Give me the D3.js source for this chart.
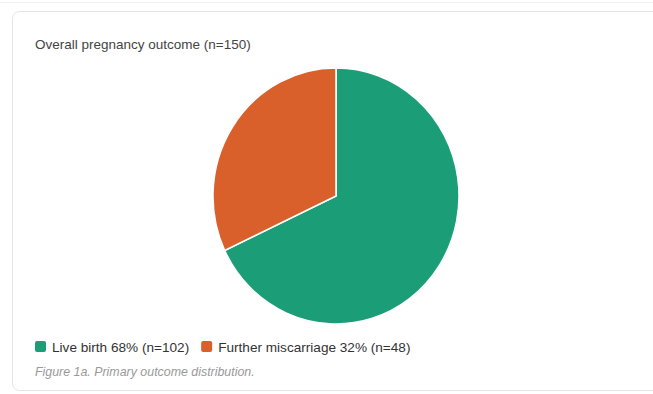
<!DOCTYPE html>
<html>
<head>
<meta charset="utf-8">
<script src="https://cdn.jsdelivr.net/npm/d3@7"></script>
<style>
  html, body { margin: 0; padding: 0; background: #fff; }
  svg { display: block; font-family: "Liberation Sans", Arial, sans-serif; }
</style>
</head>
<body>
<svg id="chart" width="653" height="394"></svg>
<script>
// Outcome categories and counts
const categories = ["Live birth", "Further miscarriage"];
const counts = [102, 48];
const colors = ["#1b9e77", "#d95f2b"];
const title = "Overall pregnancy outcome (n=150)";
const caption = "Figure 1a. Primary outcome distribution.";

const total = d3.sum(counts);
const data = categories.map((c, i) => ({ name: c, value: counts[i], color: colors[i] }));

const svg = d3.select("#chart");

// faint divider above the card
svg.append("line")
  .attr("x1", 0).attr("x2", 653).attr("y1", 2.5).attr("y2", 2.5)
  .attr("stroke", "#f0f0f0");

// card
svg.append("rect")
  .attr("x", 12.5).attr("y", 11.5)
  .attr("width", 700).attr("height", 379)
  .attr("rx", 7)
  .attr("fill", "#fff")
  .attr("stroke", "#e4e4e4");

svg.append("text")
  .attr("x", 35).attr("y", 48.5)
  .attr("font-size", 13.5)
  .attr("fill", "#444")
  .text(title);

// pie
const cx = 336, cy = 196, r = 123;
const pie = d3.pie().sort(null).value(d => d.value);
const arc = d3.arc().innerRadius(0).outerRadius(r);

const g = svg.append("g")
  .attr("transform", `translate(${cx},${cy}) scale(1,1.04)`);

g.selectAll("path")
  .data(pie(data))
  .join("path")
  .attr("d", arc)
  .attr("fill", d => d.data.color)
  .attr("stroke", "#fff")
  .attr("stroke-width", 1.5);

// legend
const legend = svg.append("g").attr("transform", "translate(35,347)");
let x = 0;
data.forEach(d => {
  const item = legend.append("g").attr("transform", `translate(${x},0)`);
  item.append("rect")
    .attr("x", 0).attr("y", -6)
    .attr("width", 11).attr("height", 11)
    .attr("rx", 2)
    .attr("fill", d.color);
  const t = item.append("text")
    .attr("x", 17).attr("y", 5)
    .attr("font-size", 13.6)
    .attr("fill", "#333")
    .text(`${d.name} ${Math.round(d.value / total * 100)}% (n=${d.value})`);
  x += 17 + t.node().getComputedTextLength() + 12;
});

svg.append("text")
  .attr("x", 35).attr("y", 376)
  .attr("font-size", 12.4)
  .attr("font-style", "italic")
  .attr("fill", "#999")
  .text(caption);
</script>
</body>
</html>
